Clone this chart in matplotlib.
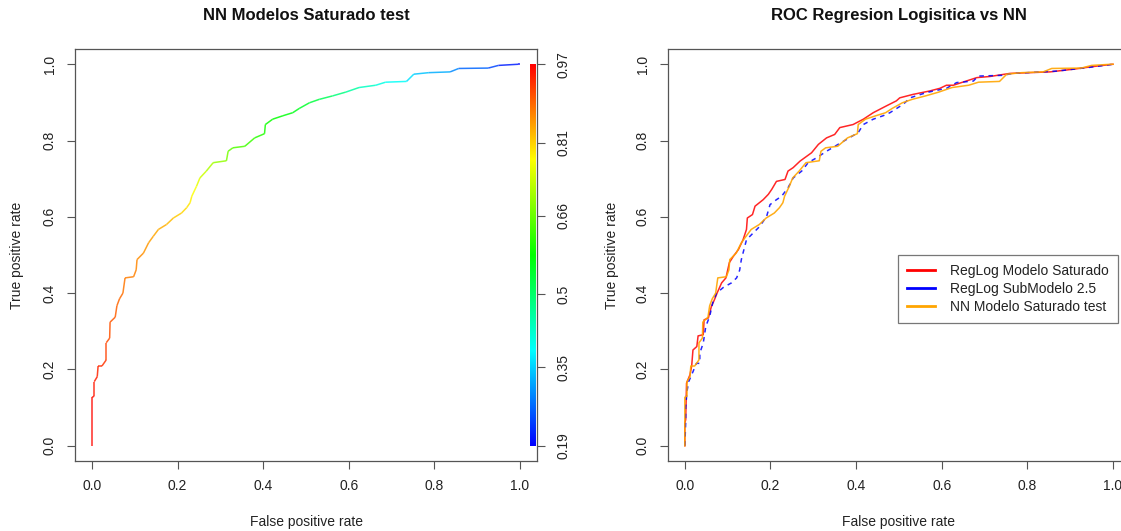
import numpy as np
import matplotlib
matplotlib.use("Agg")
import matplotlib.pyplot as plt
from matplotlib.collections import LineCollection
from matplotlib.colors import hsv_to_rgb
from matplotlib.lines import Line2D

plt.rcParams['font.family'] = ['Liberation Sans', 'DejaVu Sans']

# ---------------- data ----------------
nn_fpr = [0, 0, 0.005, 0.005, 0.012, 0.014, 0.023, 0.033, 0.033, 0.041, 0.042, 0.054, 0.058,
          0.064, 0.072, 0.077, 0.097, 0.103, 0.105, 0.12, 0.132, 0.143, 0.155, 0.174, 0.19,
          0.209, 0.221, 0.229, 0.233, 0.244, 0.252, 0.267, 0.283, 0.314, 0.318, 0.329, 0.357,
          0.38, 0.403, 0.405, 0.422, 0.446, 0.469, 0.484, 0.508, 0.531, 0.562, 0.593, 0.624,
          0.663, 0.686, 0.735, 0.752, 0.787, 0.837, 0.857, 0.926, 0.95, 0.996, 1.0]
nn_tpr = [0, 0.127, 0.13, 0.168, 0.181, 0.209, 0.209, 0.225, 0.27, 0.282, 0.324, 0.337, 0.367,
          0.385, 0.40, 0.44, 0.443, 0.461, 0.488, 0.505, 0.532, 0.549, 0.567, 0.58, 0.597,
          0.61, 0.624, 0.637, 0.654, 0.68, 0.702, 0.72, 0.742, 0.747, 0.772, 0.781, 0.785,
          0.807, 0.818, 0.842, 0.856, 0.865, 0.873, 0.884, 0.899, 0.908, 0.917, 0.927, 0.939,
          0.945, 0.953, 0.955, 0.974, 0.978, 0.98, 0.989, 0.99, 0.997, 1.0, 1.0]
nn_cutoff = [0.97, 0.96, 0.955, 0.95, 0.945, 0.94, 0.935, 0.925, 0.915, 0.91, 0.905, 0.9, 0.895,
             0.89, 0.885, 0.875, 0.872, 0.87, 0.865, 0.86, 0.85, 0.845, 0.84, 0.835, 0.82,
             0.81, 0.80, 0.79, 0.78, 0.765, 0.745, 0.725, 0.70, 0.685, 0.66, 0.645, 0.635,
             0.615, 0.60, 0.59, 0.585, 0.575, 0.565, 0.555, 0.54, 0.525, 0.50, 0.47, 0.445,
             0.415, 0.40, 0.38, 0.345, 0.335, 0.31, 0.28, 0.255, 0.23, 0.195, 0.19]

rl_fpr = [0, 0, 0.002, 0.004, 0.012, 0.016, 0.019, 0.028, 0.031, 0.043, 0.045, 0.055, 0.062,
          0.07, 0.076, 0.086, 0.096, 0.099, 0.104, 0.113, 0.125, 0.136, 0.144, 0.146, 0.158,
          0.164, 0.183, 0.195, 0.203, 0.214, 0.234, 0.241, 0.253, 0.269, 0.28, 0.296, 0.312,
          0.331, 0.35, 0.362, 0.393, 0.417, 0.44, 0.471, 0.494, 0.502, 0.533, 0.572, 0.596,
          0.611, 0.627, 0.682, 0.713, 0.759, 0.853, 0.907, 0.954, 1.0]
rl_tpr = [0, 0.059, 0.068, 0.164, 0.186, 0.209, 0.251, 0.26, 0.288, 0.291, 0.33, 0.335, 0.365,
          0.385, 0.402, 0.427, 0.44, 0.455, 0.48, 0.496, 0.514, 0.54, 0.567, 0.597, 0.606,
          0.628, 0.645, 0.659, 0.672, 0.693, 0.698, 0.72, 0.729, 0.746, 0.755, 0.768, 0.79,
          0.807, 0.816, 0.834, 0.842, 0.856, 0.873, 0.891, 0.904, 0.912, 0.921, 0.93, 0.937,
          0.945, 0.945, 0.965, 0.968, 0.976, 0.98, 0.987, 0.994, 1.0]

sub_fpr = [0, 0.002, 0.002, 0.005, 0.009, 0.019, 0.027, 0.035, 0.035, 0.043, 0.049, 0.058,
           0.065, 0.074, 0.09, 0.109, 0.121, 0.128, 0.132, 0.144, 0.16, 0.175, 0.191, 0.199,
           0.214, 0.226, 0.241, 0.253, 0.273, 0.288, 0.308, 0.331, 0.358, 0.378, 0.405, 0.417,
           0.44, 0.463, 0.479, 0.51, 0.526, 0.565, 0.611, 0.635, 0.674, 0.685, 0.743, 0.766,
           0.868, 0.946, 1.0]
sub_tpr = [0, 0.06, 0.10, 0.142, 0.168, 0.194, 0.216, 0.216, 0.243, 0.269, 0.313, 0.339,
           0.374, 0.40, 0.415, 0.427, 0.44, 0.46, 0.488, 0.54, 0.558, 0.575, 0.601, 0.632,
           0.645, 0.654, 0.676, 0.702, 0.72, 0.742, 0.755, 0.772, 0.79, 0.803, 0.821, 0.842,
           0.856, 0.865, 0.873, 0.895, 0.912, 0.926, 0.937, 0.952, 0.956, 0.969, 0.971, 0.976,
           0.982, 0.992, 1.0]

cbar_labels = ["0.19", "0.35", "0.5", "0.66", "0.81", "0.97"]
cut_min, cut_max = 0.19, 0.97
xticks = [0.0, 0.2, 0.4, 0.6, 0.8, 1.0]
xticklabels = ["0.0", "0.2", "0.4", "0.6", "0.8", "1.0"]
legend_labels = ["RegLog Modelo Saturado", "RegLog SubModelo 2.5", "NN Modelo Saturado test"]

# ---------------- helpers ----------------
def cut_color(c):
    h = (cut_max - np.asarray(c, float)) / (cut_max - cut_min) * (2.0 / 3.0)
    h = np.clip(h, 0, 2.0 / 3.0)
    hsv = np.stack([h, np.ones_like(h), np.ones_like(h)], axis=-1)
    return hsv_to_rgb(hsv)

W, H = 1121, 531
fig = plt.figure(figsize=(W / 100, H / 100), dpi=100)

def px_axes(x0, x1, ytop, ybot):
    return fig.add_axes([x0 / W, 1 - ybot / H, (x1 - x0) / W, (ybot - ytop) / H])

EDGE = '#555555'
FS = 10

def style(ax, title, lab_x):
    ax.set_xlim(-0.04, 1.04)
    ax.set_ylim(-0.04, 1.04)
    ax.set_xticks(xticks)
    ax.set_xticklabels(xticklabels)
    ax.set_yticks(xticks)
    ax.set_yticklabels(xticklabels, rotation=90, va='center')
    ax.tick_params(direction='out', length=6, width=0.8, color=EDGE, labelsize=FS,
                   labelcolor='#222222', pad=7)
    for s in ax.spines.values():
        s.set_color(EDGE)
        s.set_linewidth(0.9)
    ax.set_xlabel("False positive rate", fontsize=FS, color='#222222')
    ax.set_ylabel("True positive rate", fontsize=FS, color='#222222')
    ax.xaxis.set_label_coords(0.5, -0.147)
    ax.xaxis.label.set_va('center')
    ax.yaxis.set_label_coords(lab_x, 0.5)
    ax.yaxis.label.set_va('center')
    ax.text(0.5, 1 + 33 / 412, title, transform=ax.transAxes, ha='center', va='center',
            fontsize=12, fontweight='bold', color='#111111')

# ---------------- left panel ----------------
ax1 = px_axes(75, 537, 49, 461)
style(ax1, "NN Modelos Saturado test", -0.126)

pts = np.column_stack([nn_fpr, nn_tpr])
segs = np.stack([pts[:-1], pts[1:]], axis=1)
cs = (np.array(nn_cutoff[:-1]) + np.array(nn_cutoff[1:])) / 2
lc = LineCollection(segs, colors=cut_color(cs), linewidths=1.1, alpha=0.85)
ax1.add_collection(lc)

# colorbar strip inside plot area
grad = np.linspace(cut_min, cut_max, 256)[:, None]
ax1.imshow(cut_color(grad), extent=[1.024, 1.036, 0, 1], origin='lower',
           aspect='auto', interpolation='bilinear', zorder=3)
ax1.set_xlim(-0.04, 1.04)
ax1.set_ylim(-0.04, 1.04)

ax1r = ax1.twinx()
ax1r.set_ylim(-0.04, 1.04)
vals = [float(v) for v in cbar_labels]
ax1r.set_yticks([(v - cut_min) / (cut_max - cut_min) for v in vals])
ax1r.set_yticklabels(cbar_labels, rotation=90, va='center')
ax1r.tick_params(direction='out', length=6, width=0.8, color=EDGE, labelsize=FS,
                 labelcolor='#222222', pad=8)
for s in ax1r.spines.values():
    s.set_visible(False)

# ---------------- right panel ----------------
ax2 = px_axes(667.7, 1130.1, 49, 461)
style(ax2, "ROC Regresion Logisitica vs NN", -0.121)
ax2.plot(rl_fpr, rl_tpr, color='#FF0000', lw=1.1, alpha=0.85)
ax2.plot(sub_fpr, sub_tpr, color='#0000FF', lw=1.1, dashes=(3, 3), alpha=0.85)
ax2.plot(nn_fpr, nn_tpr, color='#FFA500', lw=1.1, alpha=0.9)

handles = [Line2D([], [], color=c, lw=2) for c in ['#FF0000', '#0000FF', '#FFA500']]
leg = ax2.legend(handles, legend_labels, loc='upper left',
                 bbox_to_anchor=(898 / W, 1 - 255 / H), bbox_transform=fig.transFigure,
                 borderaxespad=0, frameon=True, fancybox=False, fontsize=FS,
                 handlelength=2.0, handletextpad=1.1, borderpad=0.65, labelspacing=0.28)
leg.get_frame().set_edgecolor(EDGE)
leg.get_frame().set_linewidth(0.9)
for t in leg.get_texts():
    t.set_color('#222222')

fig.savefig("out.png", dpi=100)
